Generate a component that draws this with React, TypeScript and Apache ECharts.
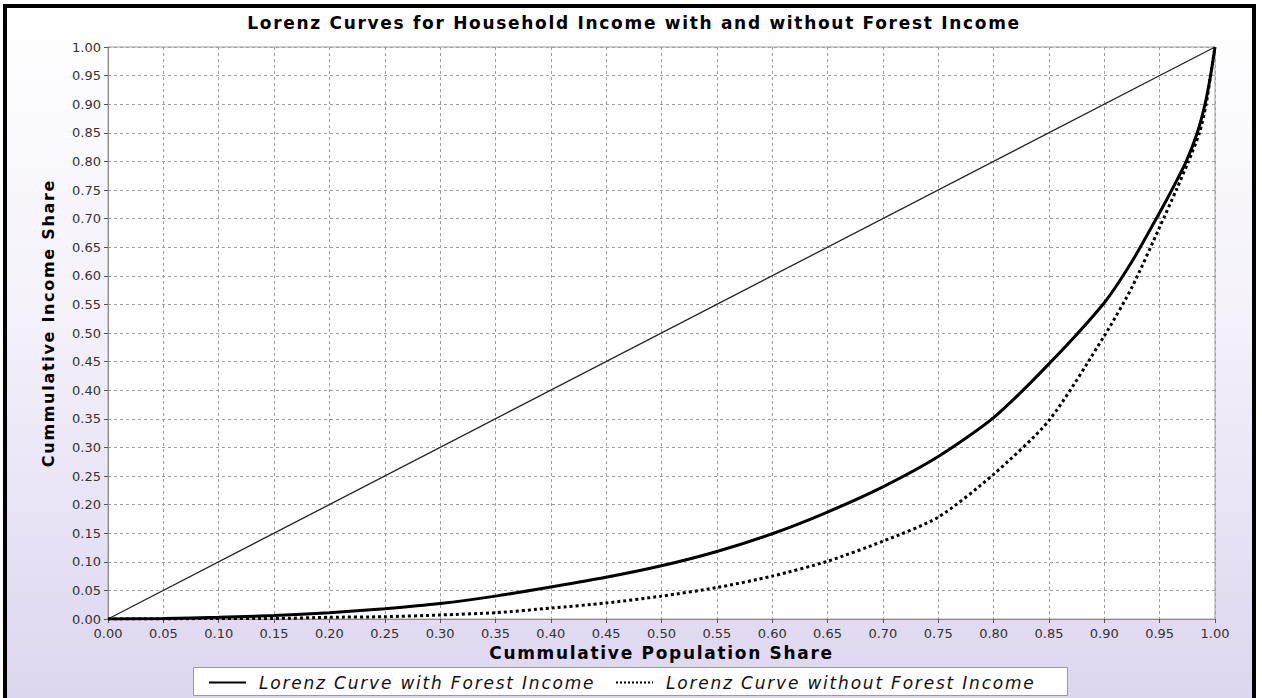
import React, { useEffect, useRef } from "react";
import * as echarts from "echarts";

const TITLE = "Lorenz Curves for Household Income with and without Forest Income";
const X_NAME = "Cummulative Population Share";
const Y_NAME = "Cummulative Income Share";
const SERIES_WITH = "Lorenz Curve with Forest Income";
const SERIES_WITHOUT = "Lorenz Curve without Forest Income";

const AXIS_MIN = 0;
const AXIS_MAX = 1;
const AXIS_STEP = 0.05;

const equalityPop = [0, 1];
const equalityIncome = [0, 1];

const popWith = [
  0, 0.05, 0.1, 0.15, 0.2, 0.25, 0.3, 0.35, 0.4, 0.45, 0.5, 0.55, 0.6, 0.65, 0.7, 0.75, 0.8, 0.85, 0.9,
  0.925, 0.947, 0.961, 0.974, 0.984, 0.991, 0.996, 1,
];
const incomeWith = [
  0, 0.001, 0.003, 0.006, 0.011, 0.018, 0.027, 0.04, 0.056, 0.073, 0.093, 0.118, 0.149, 0.187, 0.231,
  0.284, 0.352, 0.446, 0.553, 0.625, 0.7, 0.75, 0.8, 0.85, 0.9, 0.95, 1,
];

const popWithout = [
  0, 0.05, 0.1, 0.15, 0.2, 0.25, 0.3, 0.35, 0.4, 0.45, 0.5, 0.55, 0.6, 0.65, 0.7, 0.75, 0.8, 0.85, 0.9,
  0.925, 0.95, 0.965, 0.976, 0.986, 0.992, 0.996, 1,
];
const incomeWithout = [
  0, 0, 0.001, 0.001, 0.003, 0.004, 0.007, 0.011, 0.019, 0.028, 0.04, 0.055, 0.075, 0.101, 0.136,
  0.178, 0.253, 0.347, 0.495, 0.58, 0.685, 0.75, 0.8, 0.85, 0.9, 0.95, 1,
];

const pairs = (xs: number[], ys: number[]) => xs.map((x, i) => [x, ys[i]]);

const FONT = "DejaVu Sans";

export default function App() {
  const ref = useRef<HTMLDivElement>(null);

  useEffect(() => {
    if (!ref.current) return;
    const chart = echarts.init(ref.current, undefined, { renderer: "svg" });

    const axisCommon = {
      type: "value",
      min: AXIS_MIN,
      max: AXIS_MAX,
      interval: AXIS_STEP,
      nameLocation: "middle",
      nameTextStyle: { fontFamily: FONT, fontWeight: "bold", fontSize: 17, color: "#000" },
      axisLine: { show: true, lineStyle: { color: "#8c8c8c", width: 1 } },
      axisTick: { show: true, length: 4, lineStyle: { color: "#555" } },
      axisLabel: {
        formatter: (v: number) => v.toFixed(2),
        fontFamily: FONT,
        fontSize: 13,
        color: "#333",
      },
      splitLine: { show: true, lineStyle: { color: "#a0a0a0", type: [3, 3], width: 1 } },
    };

    const legendCommon = {
      top: 666,
      itemWidth: 37,
      itemHeight: 14,
      padding: 0,
      z: 5,
      textStyle: {
        fontFamily: FONT,
        fontStyle: "italic",
        fontSize: 17,
        color: "#111",
        padding: [0, 0, 0, 8],
      },
      lineStyle: { width: 2 },
      itemStyle: { opacity: 0 },
      selectedMode: false,
    };

    chart.setOption({
      animation: false,
      backgroundColor: new echarts.graphic.LinearGradient(0, 0, 0, 1, [
        { offset: 0, color: "#ffffff" },
        { offset: 0.45, color: "#f4f1fa" },
        { offset: 1, color: "#ddd6f0" },
      ]),
      title: {
        text: TITLE,
        left: 627,
        top: 6,
        textAlign: "center",
        padding: 0,
        textStyle: { fontFamily: FONT, fontWeight: "bold", fontSize: 17, color: "#000" },
      },
      grid: {
        left: 101,
        right: 37,
        top: 39,
        bottom: 79,
        show: true,
        backgroundColor: "#ffffff",
        borderColor: "#a0a0a0",
        borderWidth: 1,
      },
      xAxis: {
        ...axisCommon,
        name: X_NAME,
        nameGap: 25,
        axisLabel: { ...axisCommon.axisLabel, margin: 8 },
      },
      yAxis: {
        ...axisCommon,
        name: Y_NAME,
        nameGap: 52,
        nameTextStyle: { ...axisCommon.nameTextStyle, fontSize: 16, padding: [0, 0, 0, 20] },
        axisLabel: { ...axisCommon.axisLabel, margin: 7 },
      },
      legend: [
        { ...legendCommon, left: 201, data: [SERIES_WITH] },
        { ...legendCommon, left: 608, data: [SERIES_WITHOUT] },
      ],
      graphic: [
        {
          type: "rect",
          z: 1,
          shape: { x: 186.5, y: 659.5, width: 874, height: 28 },
          style: { fill: "#ffffff", stroke: "#9a9a9a", lineWidth: 1 },
        },
      ],
      series: [
        {
          name: "Equality",
          type: "line",
          data: pairs(equalityPop, equalityIncome),
          symbol: "none",
          lineStyle: { color: "#222", width: 1.3 },
          itemStyle: { color: "#222" },
          z: 2,
        },
        {
          name: SERIES_WITH,
          type: "line",
          data: pairs(popWith, incomeWith),
          symbol: "none",
          smooth: 0.25,
          lineStyle: { color: "#000", width: 3 },
          itemStyle: { color: "#000" },
          z: 3,
        },
        {
          name: SERIES_WITHOUT,
          type: "line",
          data: pairs(popWithout, incomeWithout),
          symbol: "none",
          smooth: 0.25,
          lineStyle: { color: "#000", width: 3, type: "dotted" },
          itemStyle: { color: "#000" },
          z: 3,
        },
      ],
    });

    return () => chart.dispose();
  }, []);

  return (
    <div style={{ position: "absolute", left: 0, top: 0, width: 1262, height: 698, background: "#fff" }}>
      <style>{`
        .lz svg text[style*="bold"], .lz svg text[font-weight="bold"] { letter-spacing: 1.7px; }
        .lz svg text[style*="italic"], .lz svg text[font-style="italic"] { letter-spacing: 1.8px; }
      `}</style>
      <div
        className="lz"
        style={{
          position: "absolute",
          left: 3,
          top: 4,
          width: 1253,
          height: 694,
          boxSizing: "border-box",
          borderTop: "4px solid #000",
          borderLeft: "4px solid #000",
          borderRight: "4px solid #000",
        }}
      >
        <div ref={ref} style={{ width: 1245, height: 690 }} />
      </div>
    </div>
  );
}
